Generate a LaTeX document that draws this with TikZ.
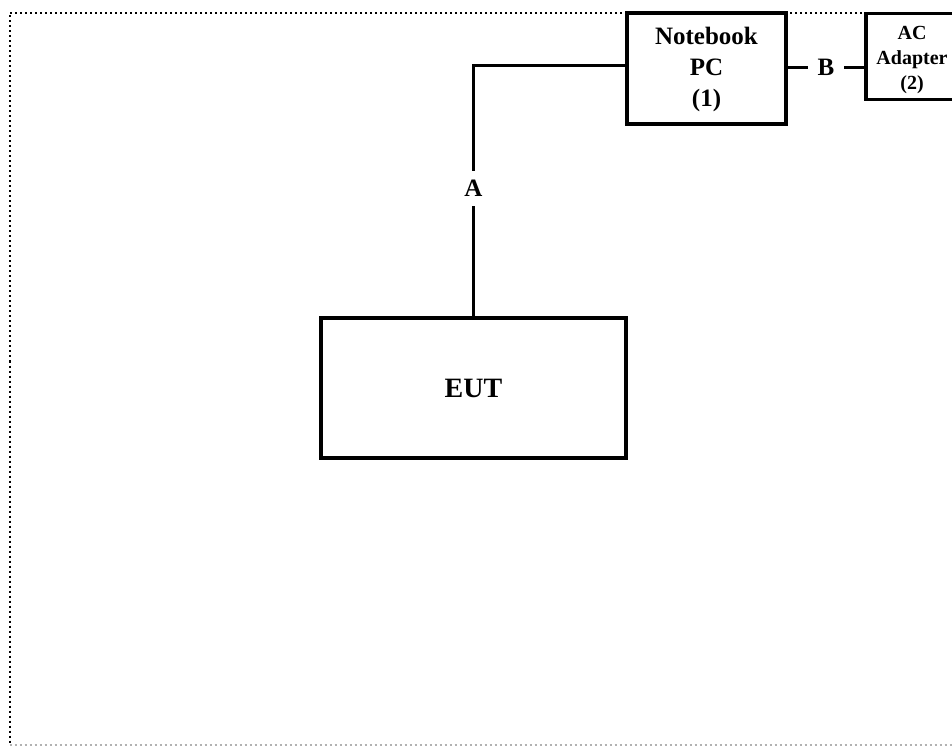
\documentclass[tikz,border=0pt]{standalone}
\usepackage{fontspec}
\setmainfont{Liberation Serif}
\usetikzlibrary{positioning}
\tikzset{
  unit/.style={draw, line width=1.6pt, align=center, inner sep=0pt, font=\bfseries},
  cable/.style={line width=1.6pt},
  cablelabel/.style={fill=white, inner xsep=5pt, inner ysep=4.5pt, font=\bfseries\fontsize{12.5}{15}\selectfont},
  frame/.style={line width=1pt, dash pattern=on 1pt off 1.5pt}
}
\begin{document}
\begin{tikzpicture}[x=0.5pt,y=-0.5pt]
      \useasboundingbox (0,0) rectangle (952,747);
      % dotted test area
      \draw[frame] (952,13) -- (9.5,13) -- (9.5,745);
      \draw[frame, gray!60] (9.5,745) -- (952,745);
      % units
      \node[unit, minimum width=79.5pt, minimum height=55.5pt,
            font=\bfseries\fontsize{12.5}{15.5}\selectfont] (pc) at (706.5,68.5) {\rule{0pt}{10pt}Notebook\\PC\\(1)};
      \node[unit, minimum width=46pt, minimum height=43pt,
            font=\bfseries\fontsize{10}{12.5}\selectfont] (adapter) at (912,56.5) {\rule{0pt}{10.6pt}AC\\Adapter\\(2)};
      \node[unit, minimum width=152.5pt, minimum height=70pt,
            font=\bfseries\fontsize{14}{16}\selectfont] (eut) at (473.5,388) {EUT};
      % cables
      \draw[cable] (pc.west) ++(0,-3) coordinate (a1)
                   (a1) -| node[cablelabel, pos=0.745]{A} (eut.north);
      \draw[cable] (pc.east |- adapter.west) ++(0,11) coordinate (b1)
                   (b1) -- node[cablelabel]{B} (b1 -| adapter.west);
    \end{tikzpicture}
\end{document}
